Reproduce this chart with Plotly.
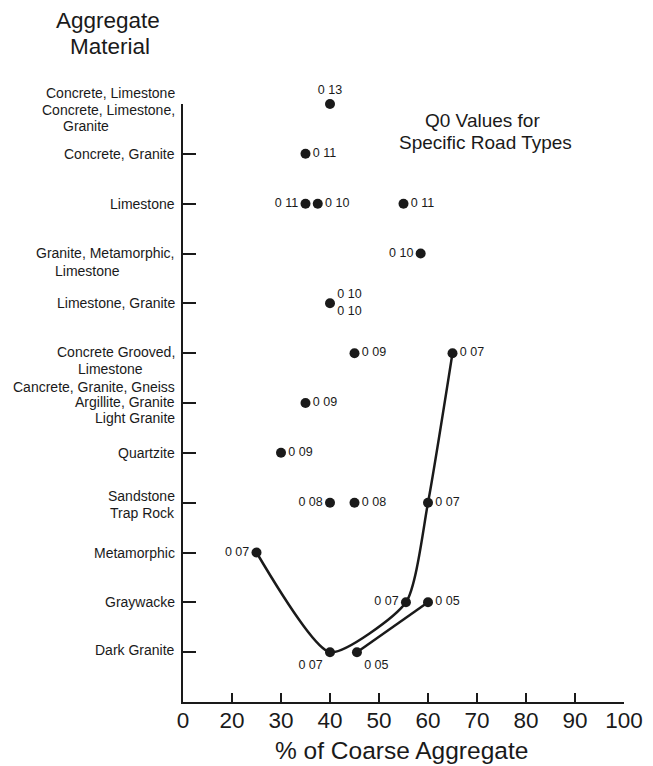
import plotly.graph_objects as go

# ---- data ----
levels = [1, 2, 3, 4, 5, 6, 7, 8, 9, 10, 11, 12]
materials = [
    ["Dark Granite"],
    ["Graywacke"],
    ["Metamorphic"],
    ["Sandstone", "Trap Rock"],
    ["Quartzite"],
    ["Cancrete, Granite, Gneiss", "Argillite, Granite", "Light Granite"],
    ["Concrete Grooved,", "Limestone"],
    ["Limestone, Granite"],
    ["Granite, Metamorphic,", "Limestone"],
    ["Limestone"],
    ["Concrete, Granite"],
    ["Concrete, Limestone", "Concrete, Limestone,", "Granite"],
]

pt_pct = [40, 35, 35, 37.5, 55, 58.5, 40, 45, 65, 35, 30, 40, 45, 60, 25, 55.5, 60, 40, 45.5]
pt_level = [12, 11, 10, 10, 10, 9, 8, 7, 7, 6, 5, 4, 4, 4, 3, 2, 2, 1, 1]
pt_q0 = ["0 13", "0 11", "0 11", "0 10", "0 11", "0 10", "0 10<br>0 10", "0 09", "0 07",
         "0 09", "0 09", "0 08", "0 08", "0 07", "0 07", "0 07", "0 05", "0 07", "0 05"]

curve1_pct = [25, 40, 55.5, 60, 65]
curve1_level = [3, 1, 2, 4, 7]
curve2_pct = [45.5, 60]
curve2_level = [1, 2]

x_tickvals = [10, 20, 30, 40, 50, 60, 70, 80, 90, 100]
x_ticktext = ["0", "20", "30", "40", "50", "60", "70", "80", "90", "100"]

title_lines = ["Aggregate", "Material"]
note_lines = ["Q0 Values for", "Specific Road Types"]
x_title = "% of Coarse Aggregate"

# ---- layout geometry (target-page pixels; page body has an 8px margin) ----
OFF = 8
W, H = 653 - OFF, 766 - OFF
L, R, T, B = 183 - OFF, 624 - OFF, 104 - OFF, 702 - OFF


def px_x(px):
    return (px - OFF - L) / (R - L)


def px_y(py):
    return (B - (py - OFF)) / (B - T)


label_pos = ["top center", "middle right", "middle left", "middle right", "middle right",
             "middle left", "middle right", "middle right", "middle right", "middle right",
             "middle right", "middle left", "middle right", "middle right", "middle left",
             "middle left", "middle right", "bottom left", "bottom right"]
# per-line style for material labels: (yshift, centre-x or None for right aligned)
mat_style = [
    [(2, None)],
    [(0, None)],
    [(0, None)],
    [(7, None), (-10, None)],
    [(0, None)],
    [(16, None), (1, None), (-15, None)],
    [(1, None), (-16, 110)],
    [(0, None)],
    [(1, None), (-17, 87)],
    [(0, None)],
    [(0, None)],
    [(11, None), (-6, None), (-22, 86)],
]

FONT = "Liberation Sans, Arial, Helvetica, sans-serif"
INK = "#1a1a1a"

fig = go.Figure()
fig.add_trace(go.Scatter(x=curve1_pct, y=curve1_level, mode="lines",
                         line=dict(color=INK, width=2.5, shape="spline", smoothing=0.6),
                         hoverinfo="skip", showlegend=False))
fig.add_trace(go.Scatter(x=curve2_pct, y=curve2_level, mode="lines",
                         line=dict(color=INK, width=2.5, shape="spline", smoothing=0.6),
                         hoverinfo="skip", showlegend=False))
fig.add_trace(go.Scatter(x=pt_pct, y=pt_level, mode="markers+text",
                         marker=dict(size=10, color=INK),
                         text=pt_q0, textposition=label_pos,
                         textfont=dict(family=FONT, size=12.5, color=INK),
                         cliponaxis=False, showlegend=False))

for lv, lines, styles in zip(levels, materials, mat_style):
    for line, (sh, cx) in zip(lines, styles):
        if cx is None:
            fig.add_annotation(x=0, xref="paper", y=lv, yref="y", text=line,
                               showarrow=False, xanchor="right", yanchor="middle",
                               xshift=-7, yshift=sh, borderpad=0,
                               font=dict(family=FONT, size=14, color=INK))
        else:
            fig.add_annotation(x=px_x(cx), xref="paper", y=lv, yref="y", text=line,
                               showarrow=False, xanchor="center", yanchor="middle",
                               yshift=sh, borderpad=0,
                               font=dict(family=FONT, size=14, color=INK))

for line, (cx, cy) in zip(title_lines, [(108, 21), (110, 46.5)]):
    fig.add_annotation(x=px_x(cx), xref="paper", y=px_y(cy), yref="paper", text=line,
                       showarrow=False, xanchor="center", yanchor="middle", borderpad=0,
                       font=dict(family=FONT, size=22.5, color=INK))
for line, (cx, cy) in zip(note_lines, [(482, 121), (485, 143)]):
    fig.add_annotation(x=px_x(cx), xref="paper", y=px_y(cy), yref="paper", text=line,
                       showarrow=False, xanchor="center", yanchor="middle", borderpad=0,
                       font=dict(family=FONT, size=19, color=INK))
fig.add_annotation(x=px_x(401), xref="paper", y=px_y(750), yref="paper", text=x_title,
                   showarrow=False, xanchor="center", yanchor="middle",
                   font=dict(family=FONT, size=24.5, color=INK))

fig.update_xaxes(range=[10, 100], tickvals=x_tickvals, ticktext=x_ticktext,
                 ticks="inside", ticklen=9, tickwidth=2, tickcolor=INK,
                 showline=True, linecolor=INK, linewidth=2, showgrid=False, zeroline=False,
                 automargin=False, ticklabelstandoff=-3,
                 tickfont=dict(family=FONT, size=22.5, color=INK))
fig.update_yaxes(range=[0, 12], tickvals=levels, showticklabels=False,
                 ticks="inside", ticklen=13, tickwidth=2, tickcolor=INK,
                 showline=True, linecolor=INK, linewidth=2, showgrid=False, zeroline=False,
                 automargin=False)

fig.update_layout(width=W, height=H, margin=dict(l=L, r=W - R, t=T, b=H - B),
                  plot_bgcolor="white", paper_bgcolor="white",
                  font=dict(family=FONT, color=INK))
fig.write_html("out.html")
